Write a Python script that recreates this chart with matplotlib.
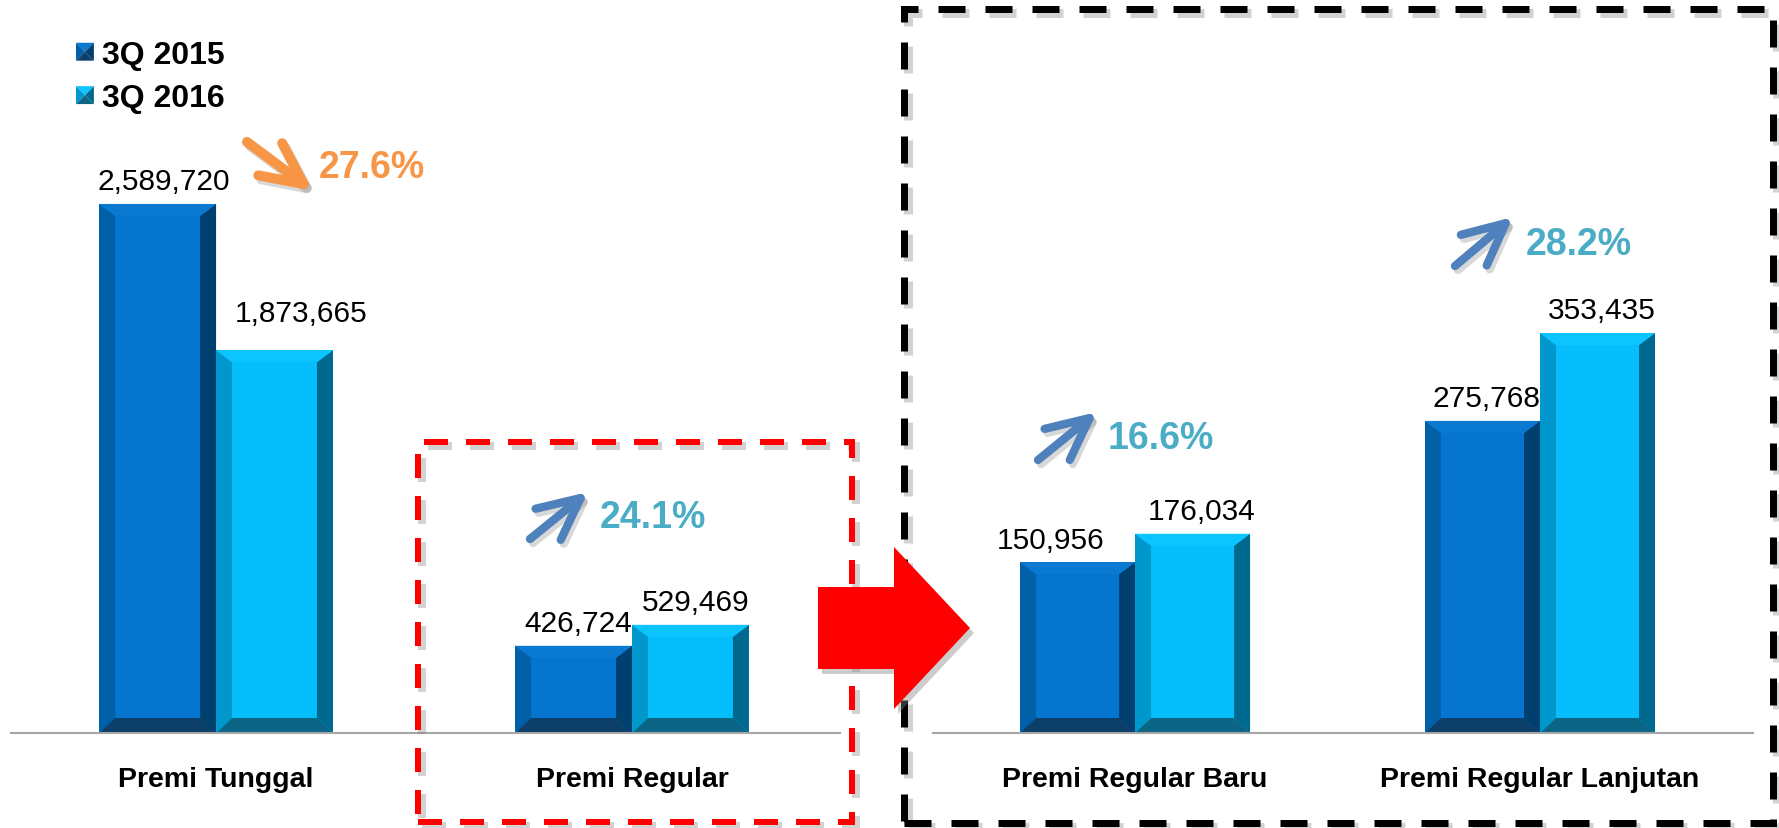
import matplotlib
matplotlib.use('Agg')
import matplotlib.pyplot as plt
from matplotlib.patches import Polygon, Rectangle, FancyArrowPatch
from matplotlib.legend_handler import HandlerBase

plt.rcParams['font.family'] = ['Liberation Sans', 'DejaVu Sans']
plt.rcParams['lines.scale_dashes'] = False

# ---------------- data ----------------
series_labels = ['3Q 2015', '3Q 2016']
left_categories = ['Premi Tunggal', 'Premi Regular']
left_2015 = [2589720, 426724]
left_2016 = [1873665, 529469]
right_categories = ['Premi Regular Baru', 'Premi Regular Lanjutan']
right_2015 = [150956, 275768]
right_2016 = [176034, 353435]
growth_labels = ['27.6%', '24.1%', '16.6%', '28.2%']
growth_up = [False, True, True, True]

# ---------------- style ----------------
W, H, DPI = 1779, 829, 100
C15 = dict(face='#0675CF', left='#0061A8', right='#00406F', bottom='#0C3F69', top='#0A79D2')
C16 = dict(face='#06BEFB', left='#0098CC', right='#00698F', bottom='#0C6585', top='#0CC4FF')
ORANGE = '#F79646'
ARROW_BLUE = '#4F81BD'
TEXT_BLUE = '#4BACC6'

fig = plt.figure(figsize=(W / DPI, H / DPI), dpi=DPI)


def fx(px):
    return px / W


def fy(py):
    return 1 - py / H


BASE_Y = 734  # baseline pixel row (from top)


def make_axes(x0, x1, xlim, ylim):
    ax = fig.add_axes([fx(x0), fy(BASE_Y), (x1 - x0) / W, BASE_Y / H])
    ax.set_xlim(*xlim)
    ax.set_ylim(*ylim)
    for s in ['top', 'left', 'right']:
        ax.spines[s].set_visible(False)
    ax.spines['bottom'].set_color('#A6A6A6')
    ax.spines['bottom'].set_linewidth(1.5)
    ax.spines['bottom'].set_zorder(5)
    ax.set_yticks([])
    ax.patch.set_alpha(0)
    return ax


def bevel(ax, bars, colors, bx=16, bt=12, bb=15):
    inv = ax.transData.inverted()
    for p in bars.patches:
        x0, y0 = p.get_x(), p.get_y()
        x1, y1 = x0 + p.get_width(), y0 + p.get_height()
        (L, B), (R, T) = ax.transData.transform([(x0, y0), (x1, y1)])
        polys = {
            'left': [(L, B), (L, T), (L + bx, T - bt), (L + bx, B + bb)],
            'right': [(R, B), (R, T), (R - bx, T - bt), (R - bx, B + bb)],
            'bottom': [(L, B), (R, B), (R - bx, B + bb), (L + bx, B + bb)],
            'top': [(L, T), (R, T), (R - bx, T - bt), (L + bx, T - bt)],
        }
        for k, pts in polys.items():
            ax.add_patch(Polygon(inv.transform(pts), closed=True, fc=colors[k],
                                 ec='none', zorder=3))


def draw_group(ax, cats, v15, v16, width, offsets):
    xs = list(range(len(cats)))
    b15 = ax.bar([x - width / 2 for x in xs], v15, width, color=C15['face'],
                 edgecolor='none', zorder=2)
    b16 = ax.bar([x + width / 2 for x in xs], v16, width, color=C16['face'],
                 edgecolor='none', zorder=2)
    fig.canvas.draw()
    bevel(ax, b15, C15)
    bevel(ax, b16, C16)
    ax.set_xticks(xs)
    ax.set_xticklabels(cats, fontsize=20.5, fontweight='bold')
    ax.tick_params(axis='x', length=0, pad=24)
    k = 0
    for bars in (b15, b16):
        for p in bars.patches:
            v = p.get_height()
            dx, dy = offsets[k]
            ax.annotate(f'{int(round(v)):,}', xy=(p.get_x() + p.get_width() / 2, v),
                        xytext=(dx * 72 / DPI, (8.6 + dy) * 72 / DPI),
                        textcoords='offset points', ha='center', va='bottom',
                        fontsize=21.5, color='black', zorder=6)
            k += 1
    return b15, b16


axL = make_axes(11, 840, (-0.493, 1.5), (0, 3.593e6))
bL15, bL16 = draw_group(axL, left_categories, left_2015, left_2016, 0.281,
                        [(6, 0), (5, 0), (27, 15), (5, 0)])
axR = make_axes(933, 1753, (-0.499, 1.526), (0, 6.486e5))
bR15, bR16 = draw_group(axR, right_categories, right_2015, right_2016, 0.284,
                        [(-27, 0), (4, 0), (9, 0), (4, 0)])


# ---------------- legend ----------------
class HandlerPyramid(HandlerBase):
    def __init__(self, colors):
        super().__init__()
        self.colors = colors

    def create_artists(self, legend, orig_handle, xdescent, ydescent, width,
                       height, fontsize, trans):
        s = min(width, height)
        x0, y0 = -xdescent, -ydescent + (height - s) / 2
        cx, cy = x0 + s / 2, y0 + s / 2
        c = self.colors
        tris = [
            ([(x0, y0 + s), (x0 + s, y0 + s), (cx, cy)], c['top']),
            ([(x0, y0), (x0, y0 + s), (cx, cy)], c['left']),
            ([(x0 + s, y0), (x0 + s, y0 + s), (cx, cy)], c['right']),
            ([(x0, y0), (x0 + s, y0), (cx, cy)], c['bottom']),
        ]
        arts = []
        for pts, col in tris:
            pg = Polygon(pts, closed=True, fc=col, ec='none', transform=trans)
            arts.append(pg)
        return arts


leg = fig.legend([bL15, bL16], series_labels, loc='upper left',
                 bbox_to_anchor=(fx(76), fy(41)), frameon=False,
                 prop=dict(weight='bold', size=23), handlelength=0.56,
                 handleheight=0.56, handletextpad=0.25, labelspacing=0.42,
                 borderpad=0, borderaxespad=0,
                 handler_map={bL15: HandlerPyramid(C15), bL16: HandlerPyramid(C16)})

# ---------------- dashed boxes ----------------
def dashed_box(x0, y0, x1, y1, color, lw_px, on_px, off_px):
    lw = lw_px * 72 / DPI
    ls = (0, (on_px * 72 / DPI, off_px * 72 / DPI))
    sh = Rectangle((fx(x0 + 4), fy(y1 + 4)), (x1 - x0) / W, (y1 - y0) / H,
                   transform=fig.transFigure, fill=False, ec='#808080', alpha=0.35,
                   lw=lw + 1.5, linestyle=ls, zorder=7)
    fig.add_artist(sh)
    r = Rectangle((fx(x0), fy(y1)), (x1 - x0) / W, (y1 - y0) / H,
                  transform=fig.transFigure, fill=False, ec=color, lw=lw,
                  linestyle=ls, zorder=8)
    fig.add_artist(r)


dashed_box(418, 443, 852, 823, '#FF0000', 6, 24, 18)
dashed_box(904, 10, 1773, 824, '#000000', 7, 27, 20)

# ---------------- big red arrow ----------------
red_arrow = [(818, 588), (894, 588), (894, 548), (970, 629), (894, 710), (894, 670), (818, 670)]
fig.add_artist(Polygon([(fx(x + 4), fy(y + 5)) for x, y in red_arrow], closed=True,
                       transform=fig.transFigure, fc='#808080', ec='none', alpha=0.4,
                       zorder=9))
fig.add_artist(Polygon([(fx(x), fy(y)) for x, y in red_arrow], closed=True,
                       transform=fig.transFigure, fc='#FF0000', ec='none', zorder=10))

# ---------------- growth arrows + labels ----------------
arrow_layout = [((247, 143), (313, 192), 7.2), ((530, 540), (588, 493), 6.0),
                ((1038, 461), (1097, 413), 6.0), ((1455, 267), (1513, 218), 6.0)]
text_layout = [(319, 178), (600, 528), (1108, 449), (1526, 255)]

for (tail, tip, lw), (tx, ty), lab, up in zip(arrow_layout, text_layout,
                                               growth_labels, growth_up):
    col = ARROW_BLUE if up else ORANGE
    tcol = TEXT_BLUE if up else ORANGE
    style = '->,head_length=1.5,head_width=0.72'
    for off, c, a, z in [((3, 4), '#7F7F7F', 0.3, 10), ((0, 0), col, 1.0, 11)]:
        fa = FancyArrowPatch((fx(tail[0] + off[0]), fy(tail[1] + off[1])),
                             (fx(tip[0] + off[0]), fy(tip[1] + off[1])),
                             transform=fig.transFigure, arrowstyle=style,
                             mutation_scale=20, lw=lw, color=c, alpha=a,
                             shrinkA=0, shrinkB=0, capstyle='round',
                             joinstyle='round', zorder=z)
        fig.add_artist(fa)
    fig.text(fx(tx), fy(ty), lab, ha='left', va='baseline', fontsize=27,
             fontweight='bold', color=tcol, zorder=12)

fig.savefig('out.png', dpi=DPI, facecolor='white')
